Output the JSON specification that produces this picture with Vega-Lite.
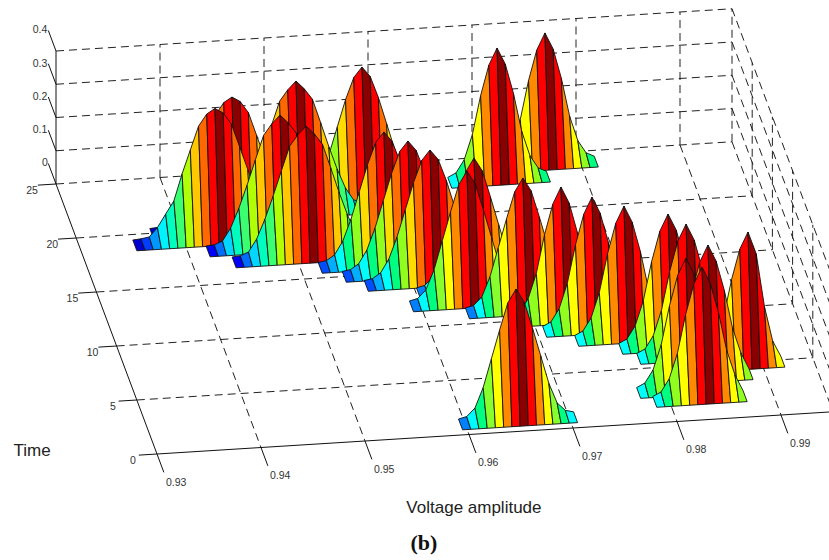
{"$schema":"https://vega.github.io/schema/vega-lite/v6.json","width":829,"height":560,"autosize":{"type":"fit","contains":"padding"},"padding":0,"background":"white","config":{"view":{"stroke":null}},
"datasets":{
"grid":[
{"id":"b0","v":0.93,"t":25,"z":0},{"id":"b0","v":0.995,"t":25,"z":0},
{"id":"b1","v":0.93,"t":25,"z":0.1},{"id":"b1","v":0.995,"t":25,"z":0.1},
{"id":"b2","v":0.93,"t":25,"z":0.2},{"id":"b2","v":0.995,"t":25,"z":0.2},
{"id":"b3","v":0.93,"t":25,"z":0.3},{"id":"b3","v":0.995,"t":25,"z":0.3},
{"id":"b4","v":0.93,"t":25,"z":0.4},{"id":"b4","v":0.995,"t":25,"z":0.4},
{"id":"c1","v":0.94,"t":25,"z":0},{"id":"c1","v":0.94,"t":25,"z":0.4},
{"id":"c2","v":0.95,"t":25,"z":0},{"id":"c2","v":0.95,"t":25,"z":0.4},
{"id":"c3","v":0.96,"t":25,"z":0},{"id":"c3","v":0.96,"t":25,"z":0.4},
{"id":"c4","v":0.97,"t":25,"z":0},{"id":"c4","v":0.97,"t":25,"z":0.4},
{"id":"c5","v":0.98,"t":25,"z":0},{"id":"c5","v":0.98,"t":25,"z":0.4},
{"id":"c6","v":0.99,"t":25,"z":0},{"id":"c6","v":0.99,"t":25,"z":0.4},
{"id":"c7","v":0.995,"t":25,"z":0},{"id":"c7","v":0.995,"t":25,"z":0.4},
{"id":"f1","v":0.94,"t":0,"z":0},{"id":"f1","v":0.94,"t":25,"z":0},
{"id":"f2","v":0.95,"t":0,"z":0},{"id":"f2","v":0.95,"t":25,"z":0},
{"id":"f3","v":0.96,"t":0,"z":0},{"id":"f3","v":0.96,"t":25,"z":0},
{"id":"f4","v":0.97,"t":0,"z":0},{"id":"f4","v":0.97,"t":25,"z":0},
{"id":"f5","v":0.98,"t":0,"z":0},{"id":"f5","v":0.98,"t":25,"z":0},
{"id":"f6","v":0.99,"t":0,"z":0},{"id":"f6","v":0.99,"t":25,"z":0},
{"id":"f7","v":0.995,"t":0,"z":0},{"id":"f7","v":0.995,"t":25,"z":0},
{"id":"g1","v":0.93,"t":5,"z":0},{"id":"g1","v":0.995,"t":5,"z":0},
{"id":"g2","v":0.93,"t":10,"z":0},{"id":"g2","v":0.995,"t":10,"z":0},
{"id":"g3","v":0.93,"t":15,"z":0},{"id":"g3","v":0.995,"t":15,"z":0},
{"id":"g4","v":0.93,"t":20,"z":0},{"id":"g4","v":0.995,"t":20,"z":0},
{"id":"r1","v":0.995,"t":0,"z":0.1},{"id":"r1","v":0.995,"t":25,"z":0.1},
{"id":"r2","v":0.995,"t":0,"z":0.2},{"id":"r2","v":0.995,"t":25,"z":0.2},
{"id":"r3","v":0.995,"t":0,"z":0.3},{"id":"r3","v":0.995,"t":25,"z":0.3},
{"id":"r4","v":0.995,"t":0,"z":0.4},{"id":"r4","v":0.995,"t":25,"z":0.4},
{"id":"s1","v":0.995,"t":5,"z":0},{"id":"s1","v":0.995,"t":5,"z":0.4},
{"id":"s2","v":0.995,"t":10,"z":0},{"id":"s2","v":0.995,"t":10,"z":0.4},
{"id":"s3","v":0.995,"t":15,"z":0},{"id":"s3","v":0.995,"t":15,"z":0.4},
{"id":"s4","v":0.995,"t":20,"z":0},{"id":"s4","v":0.995,"t":20,"z":0.4}
],
"axes":[
{"id":"ax","v":0.93,"t":25,"z":0},{"id":"ax","v":0.93,"t":25,"z":0.4},
{"id":"ay","v":0.93,"t":0,"z":0},{"id":"ay","v":0.93,"t":25,"z":0},
{"id":"az","v":0.93,"t":0,"z":0},{"id":"az","v":0.995,"t":0,"z":0},
{"id":"v0","v":0.93,"t":0,"z":0},{"id":"v0","v":0.93,"t":-1.7,"z":0},
{"id":"v1","v":0.94,"t":0,"z":0},{"id":"v1","v":0.94,"t":-1.7,"z":0},
{"id":"v2","v":0.95,"t":0,"z":0},{"id":"v2","v":0.95,"t":-1.7,"z":0},
{"id":"v3","v":0.96,"t":0,"z":0},{"id":"v3","v":0.96,"t":-1.7,"z":0},
{"id":"v4","v":0.97,"t":0,"z":0},{"id":"v4","v":0.97,"t":-1.7,"z":0},
{"id":"v5","v":0.98,"t":0,"z":0},{"id":"v5","v":0.98,"t":-1.7,"z":0},
{"id":"v6","v":0.99,"t":0,"z":0},{"id":"v6","v":0.99,"t":-1.7,"z":0},
{"id":"t0","v":0.93,"t":0,"z":0},{"id":"t0","v":0.92825,"t":0,"z":0},
{"id":"t1","v":0.93,"t":5,"z":0},{"id":"t1","v":0.92825,"t":5,"z":0},
{"id":"t2","v":0.93,"t":10,"z":0},{"id":"t2","v":0.92825,"t":10,"z":0},
{"id":"t3","v":0.93,"t":15,"z":0},{"id":"t3","v":0.92825,"t":15,"z":0},
{"id":"t4","v":0.93,"t":20,"z":0},{"id":"t4","v":0.92825,"t":20,"z":0},
{"id":"t5","v":0.93,"t":25,"z":0},{"id":"t5","v":0.92825,"t":25,"z":0},
{"id":"z0","v":0.93,"t":25,"z":0},{"id":"z0","v":0.93,"t":26.9,"z":0},
{"id":"z1","v":0.93,"t":25,"z":0.1},{"id":"z1","v":0.93,"t":26.9,"z":0.1},
{"id":"z2","v":0.93,"t":25,"z":0.2},{"id":"z2","v":0.93,"t":26.9,"z":0.2},
{"id":"z3","v":0.93,"t":25,"z":0.3},{"id":"z3","v":0.93,"t":26.9,"z":0.3},
{"id":"z4","v":0.93,"t":25,"z":0.4},{"id":"z4","v":0.93,"t":26.9,"z":0.4}
],
"ticks":[
{"label":"0.93","v":0.9308,"t":-2.7,"z":0},{"label":"0.94","v":0.9408,"t":-2.7,"z":0},{"label":"0.95","v":0.9508,"t":-2.7,"z":0},{"label":"0.96","v":0.9608,"t":-2.7,"z":0},{"label":"0.97","v":0.9708,"t":-2.7,"z":0},{"label":"0.98","v":0.9808,"t":-2.7,"z":0},{"label":"0.99","v":0.9908,"t":-2.7,"z":0},
{"label":"0","v":0.9275,"t":-0.5,"z":0},{"label":"5","v":0.9275,"t":4.5,"z":0},{"label":"10","v":0.9275,"t":9.5,"z":0},{"label":"15","v":0.9275,"t":14.5,"z":0},{"label":"20","v":0.9275,"t":19.5,"z":0},{"label":"25","v":0.9275,"t":24.5,"z":0},
{"label":"0","v":0.9297,"t":26.95,"z":0},{"label":"0.1","v":0.92922,"t":26.95,"z":0.1},{"label":"0.2","v":0.92922,"t":26.95,"z":0.2},{"label":"0.3","v":0.92922,"t":26.95,"z":0.3},{"label":"0.4","v":0.92922,"t":26.95,"z":0.4}
],
"titles":[{"label":"Time","v":0.91837,"t":0.98,"z":0},{"label":"Voltage amplitude","v":0.95788,"t":-6.68,"z":0}],
"caption":[{"label":"(b)","v":0.95195,"t":-9.57,"z":0}],
"ridges":[
{"b":1,"t":23.47,"v":0.97207,"z":0,"c":0.38},{"b":1,"t":23.47,"v":0.97286,"z":0.012,"c":0.45},{"b":1,"t":23.47,"v":0.97365,"z":0.05,"c":0.55},{"b":1,"t":23.47,"v":0.97444,"z":0.125,"c":0.625},{"b":1,"t":23.47,"v":0.97523,"z":0.24,"c":0.74},{"b":1,"t":23.47,"v":0.97602,"z":0.33,"c":0.875},{"b":1,"t":23.47,"v":0.97681,"z":0.38,"c":1},{"b":1,"t":23.47,"v":0.9776,"z":0.33,"c":0.875},{"b":1,"t":23.47,"v":0.97839,"z":0.24,"c":0.74},{"b":1,"t":23.47,"v":0.97918,"z":0.125,"c":0.625},{"b":1,"t":23.47,"v":0.97997,"z":0.05,"c":0.55},{"b":1,"t":23.47,"v":0.98076,"z":0.012,"c":0.45},{"b":1,"t":23.47,"v":0.98155,"z":0,"c":0.38},
{"b":2,"t":22.38,"v":0.96704,"z":0,"c":0.38},{"b":2,"t":22.38,"v":0.96783,"z":0.012,"c":0.45},{"b":2,"t":22.38,"v":0.96862,"z":0.05,"c":0.55},{"b":2,"t":22.38,"v":0.96941,"z":0.125,"c":0.625},{"b":2,"t":22.38,"v":0.9702,"z":0.24,"c":0.74},{"b":2,"t":22.38,"v":0.97099,"z":0.33,"c":0.875},{"b":2,"t":22.38,"v":0.97178,"z":0.38,"c":1},{"b":2,"t":22.38,"v":0.97257,"z":0.33,"c":0.875},{"b":2,"t":22.38,"v":0.97336,"z":0.24,"c":0.74},{"b":2,"t":22.38,"v":0.97415,"z":0.125,"c":0.625},{"b":2,"t":22.38,"v":0.97494,"z":0.05,"c":0.55},{"b":2,"t":22.38,"v":0.97573,"z":0.012,"c":0.45},{"b":2,"t":22.38,"v":0.97652,"z":0,"c":0.38},
{"b":3,"t":21.42,"v":0.9521,"z":0,"c":0.18},{"b":3,"t":21.42,"v":0.95289,"z":0.004,"c":0.29},{"b":3,"t":21.42,"v":0.95368,"z":0.02,"c":0.38},{"b":3,"t":21.42,"v":0.95447,"z":0.06,"c":0.45},{"b":3,"t":21.42,"v":0.95526,"z":0.125,"c":0.55},{"b":3,"t":21.42,"v":0.95605,"z":0.205,"c":0.66},{"b":3,"t":21.42,"v":0.95684,"z":0.285,"c":0.78},{"b":3,"t":21.42,"v":0.95763,"z":0.35,"c":0.88},{"b":3,"t":21.42,"v":0.95842,"z":0.38,"c":1},{"b":3,"t":21.42,"v":0.95921,"z":0.35,"c":0.88},{"b":3,"t":21.42,"v":0.96,"z":0.285,"c":0.78},{"b":3,"t":21.42,"v":0.96079,"z":0.205,"c":0.66},{"b":3,"t":21.42,"v":0.96158,"z":0.125,"c":0.55},{"b":3,"t":21.42,"v":0.96237,"z":0.06,"c":0.45},{"b":3,"t":21.42,"v":0.96316,"z":0.02,"c":0.38},{"b":3,"t":21.42,"v":0.96395,"z":0.004,"c":0.29},{"b":3,"t":21.42,"v":0.96474,"z":0,"c":0.18},
{"b":4,"t":20.53,"v":0.94462,"z":0,"c":0.12},{"b":4,"t":20.53,"v":0.94541,"z":0.002,"c":0.22},{"b":4,"t":20.53,"v":0.9462,"z":0.012,"c":0.33},{"b":4,"t":20.53,"v":0.94699,"z":0.05,"c":0.42},{"b":4,"t":20.53,"v":0.94778,"z":0.108,"c":0.47},{"b":4,"t":20.53,"v":0.94857,"z":0.176,"c":0.57},{"b":4,"t":20.53,"v":0.94936,"z":0.25,"c":0.68},{"b":4,"t":20.53,"v":0.95015,"z":0.322,"c":0.79},{"b":4,"t":20.53,"v":0.95094,"z":0.355,"c":0.88},{"b":4,"t":20.53,"v":0.95173,"z":0.38,"c":1},{"b":4,"t":20.53,"v":0.95252,"z":0.355,"c":0.88},{"b":4,"t":20.53,"v":0.95331,"z":0.322,"c":0.79},{"b":4,"t":20.53,"v":0.9541,"z":0.25,"c":0.68},{"b":4,"t":20.53,"v":0.95489,"z":0.176,"c":0.57},{"b":4,"t":20.53,"v":0.95568,"z":0.108,"c":0.47},{"b":4,"t":20.53,"v":0.95647,"z":0.05,"c":0.42},{"b":4,"t":20.53,"v":0.95726,"z":0.012,"c":0.33},{"b":4,"t":20.53,"v":0.95805,"z":0.002,"c":0.22},{"b":4,"t":20.53,"v":0.95884,"z":0,"c":0.12},
{"b":5,"t":19.44,"v":0.93725,"z":0,"c":0.08},{"b":5,"t":19.44,"v":0.93804,"z":0.002,"c":0.16},{"b":5,"t":19.44,"v":0.93883,"z":0.006,"c":0.27},{"b":5,"t":19.44,"v":0.93962,"z":0.033,"c":0.36},{"b":5,"t":19.44,"v":0.94041,"z":0.072,"c":0.42},{"b":5,"t":19.44,"v":0.9412,"z":0.11,"c":0.47},{"b":5,"t":19.44,"v":0.94199,"z":0.19,"c":0.57},{"b":5,"t":19.44,"v":0.94278,"z":0.26,"c":0.68},{"b":5,"t":19.44,"v":0.94357,"z":0.33,"c":0.79},{"b":5,"t":19.44,"v":0.94436,"z":0.365,"c":0.88},{"b":5,"t":19.44,"v":0.94515,"z":0.38,"c":1},{"b":5,"t":19.44,"v":0.94594,"z":0.365,"c":0.88},{"b":5,"t":19.44,"v":0.94673,"z":0.33,"c":0.79},{"b":5,"t":19.44,"v":0.94752,"z":0.26,"c":0.68},{"b":5,"t":19.44,"v":0.94831,"z":0.19,"c":0.57},{"b":5,"t":19.44,"v":0.9491,"z":0.11,"c":0.47},{"b":5,"t":19.44,"v":0.94989,"z":0.072,"c":0.42},{"b":5,"t":19.44,"v":0.95068,"z":0.033,"c":0.36},{"b":5,"t":19.44,"v":0.95147,"z":0.006,"c":0.27},{"b":5,"t":19.44,"v":0.95226,"z":0.002,"c":0.16},{"b":5,"t":19.44,"v":0.95305,"z":0,"c":0.08},
{"b":6,"t":18.5,"v":0.93525,"z":0,"c":0.08},{"b":6,"t":18.5,"v":0.93604,"z":0.002,"c":0.16},{"b":6,"t":18.5,"v":0.93683,"z":0.006,"c":0.27},{"b":6,"t":18.5,"v":0.93762,"z":0.033,"c":0.36},{"b":6,"t":18.5,"v":0.93841,"z":0.072,"c":0.42},{"b":6,"t":18.5,"v":0.9392,"z":0.11,"c":0.47},{"b":6,"t":18.5,"v":0.93999,"z":0.19,"c":0.57},{"b":6,"t":18.5,"v":0.94078,"z":0.26,"c":0.68},{"b":6,"t":18.5,"v":0.94157,"z":0.33,"c":0.79},{"b":6,"t":18.5,"v":0.94236,"z":0.365,"c":0.88},{"b":6,"t":18.5,"v":0.94315,"z":0.38,"c":1},{"b":6,"t":18.5,"v":0.94394,"z":0.365,"c":0.88},{"b":6,"t":18.5,"v":0.94473,"z":0.33,"c":0.79},{"b":6,"t":18.5,"v":0.94552,"z":0.26,"c":0.68},{"b":6,"t":18.5,"v":0.94631,"z":0.19,"c":0.57},{"b":6,"t":18.5,"v":0.9471,"z":0.11,"c":0.47},{"b":6,"t":18.5,"v":0.94789,"z":0.072,"c":0.42},{"b":6,"t":18.5,"v":0.94868,"z":0.033,"c":0.36},{"b":6,"t":18.5,"v":0.94947,"z":0.006,"c":0.27},{"b":6,"t":18.5,"v":0.95026,"z":0.002,"c":0.16},{"b":6,"t":18.5,"v":0.95105,"z":0,"c":0.08},
{"b":7,"t":17.54,"v":0.94192,"z":0,"c":0.12},{"b":7,"t":17.54,"v":0.94271,"z":0.002,"c":0.22},{"b":7,"t":17.54,"v":0.9435,"z":0.012,"c":0.33},{"b":7,"t":17.54,"v":0.94429,"z":0.05,"c":0.42},{"b":7,"t":17.54,"v":0.94508,"z":0.108,"c":0.47},{"b":7,"t":17.54,"v":0.94587,"z":0.176,"c":0.57},{"b":7,"t":17.54,"v":0.94666,"z":0.25,"c":0.68},{"b":7,"t":17.54,"v":0.94745,"z":0.322,"c":0.79},{"b":7,"t":17.54,"v":0.94824,"z":0.355,"c":0.88},{"b":7,"t":17.54,"v":0.94903,"z":0.38,"c":1},{"b":7,"t":17.54,"v":0.94982,"z":0.355,"c":0.88},{"b":7,"t":17.54,"v":0.95061,"z":0.322,"c":0.79},{"b":7,"t":17.54,"v":0.9514,"z":0.25,"c":0.68},{"b":7,"t":17.54,"v":0.95219,"z":0.176,"c":0.57},{"b":7,"t":17.54,"v":0.95298,"z":0.108,"c":0.47},{"b":7,"t":17.54,"v":0.95377,"z":0.05,"c":0.42},{"b":7,"t":17.54,"v":0.95456,"z":0.012,"c":0.33},{"b":7,"t":17.54,"v":0.95535,"z":0.002,"c":0.22},{"b":7,"t":17.54,"v":0.95614,"z":0,"c":0.12},
{"b":8,"t":16.4,"v":0.94398,"z":0,"c":0.12},{"b":8,"t":16.4,"v":0.94477,"z":0.002,"c":0.22},{"b":8,"t":16.4,"v":0.94556,"z":0.012,"c":0.33},{"b":8,"t":16.4,"v":0.94635,"z":0.05,"c":0.42},{"b":8,"t":16.4,"v":0.94714,"z":0.108,"c":0.47},{"b":8,"t":16.4,"v":0.94793,"z":0.176,"c":0.57},{"b":8,"t":16.4,"v":0.94872,"z":0.25,"c":0.68},{"b":8,"t":16.4,"v":0.94951,"z":0.322,"c":0.79},{"b":8,"t":16.4,"v":0.9503,"z":0.355,"c":0.88},{"b":8,"t":16.4,"v":0.95109,"z":0.38,"c":1},{"b":8,"t":16.4,"v":0.95188,"z":0.355,"c":0.88},{"b":8,"t":16.4,"v":0.95267,"z":0.322,"c":0.79},{"b":8,"t":16.4,"v":0.95346,"z":0.25,"c":0.68},{"b":8,"t":16.4,"v":0.95425,"z":0.176,"c":0.57},{"b":8,"t":16.4,"v":0.95504,"z":0.108,"c":0.47},{"b":8,"t":16.4,"v":0.95583,"z":0.05,"c":0.42},{"b":8,"t":16.4,"v":0.95662,"z":0.012,"c":0.33},{"b":8,"t":16.4,"v":0.95741,"z":0.002,"c":0.22},{"b":8,"t":16.4,"v":0.9582,"z":0,"c":0.12},
{"b":9,"t":15.42,"v":0.95188,"z":0,"c":0.18},{"b":9,"t":15.42,"v":0.95267,"z":0.004,"c":0.29},{"b":9,"t":15.42,"v":0.95346,"z":0.02,"c":0.38},{"b":9,"t":15.42,"v":0.95425,"z":0.06,"c":0.45},{"b":9,"t":15.42,"v":0.95504,"z":0.125,"c":0.55},{"b":9,"t":15.42,"v":0.95583,"z":0.205,"c":0.66},{"b":9,"t":15.42,"v":0.95662,"z":0.285,"c":0.78},{"b":9,"t":15.42,"v":0.95741,"z":0.35,"c":0.88},{"b":9,"t":15.42,"v":0.9582,"z":0.38,"c":1},{"b":9,"t":15.42,"v":0.95899,"z":0.35,"c":0.88},{"b":9,"t":15.42,"v":0.95978,"z":0.285,"c":0.78},{"b":9,"t":15.42,"v":0.96057,"z":0.205,"c":0.66},{"b":9,"t":15.42,"v":0.96136,"z":0.125,"c":0.55},{"b":9,"t":15.42,"v":0.96215,"z":0.06,"c":0.45},{"b":9,"t":15.42,"v":0.96294,"z":0.02,"c":0.38},{"b":9,"t":15.42,"v":0.96373,"z":0.004,"c":0.29},{"b":9,"t":15.42,"v":0.96452,"z":0,"c":0.18},
{"b":10,"t":14.47,"v":0.95382,"z":0,"c":0.18},{"b":10,"t":14.47,"v":0.95461,"z":0.004,"c":0.29},{"b":10,"t":14.47,"v":0.9554,"z":0.02,"c":0.38},{"b":10,"t":14.47,"v":0.95619,"z":0.06,"c":0.45},{"b":10,"t":14.47,"v":0.95698,"z":0.125,"c":0.55},{"b":10,"t":14.47,"v":0.95777,"z":0.205,"c":0.66},{"b":10,"t":14.47,"v":0.95856,"z":0.285,"c":0.78},{"b":10,"t":14.47,"v":0.95935,"z":0.35,"c":0.88},{"b":10,"t":14.47,"v":0.96014,"z":0.38,"c":1},{"b":10,"t":14.47,"v":0.96093,"z":0.35,"c":0.88},{"b":10,"t":14.47,"v":0.96172,"z":0.285,"c":0.78},{"b":10,"t":14.47,"v":0.96251,"z":0.205,"c":0.66},{"b":10,"t":14.47,"v":0.9633,"z":0.125,"c":0.55},{"b":10,"t":14.47,"v":0.96409,"z":0.06,"c":0.45},{"b":10,"t":14.47,"v":0.96488,"z":0.02,"c":0.38},{"b":10,"t":14.47,"v":0.96567,"z":0.004,"c":0.29},{"b":10,"t":14.47,"v":0.96646,"z":0,"c":0.18},
{"b":11,"t":13.53,"v":0.95557,"z":0,"c":0.18},{"b":11,"t":13.53,"v":0.95636,"z":0.004,"c":0.29},{"b":11,"t":13.53,"v":0.95715,"z":0.02,"c":0.38},{"b":11,"t":13.53,"v":0.95794,"z":0.06,"c":0.45},{"b":11,"t":13.53,"v":0.95873,"z":0.125,"c":0.55},{"b":11,"t":13.53,"v":0.95952,"z":0.205,"c":0.66},{"b":11,"t":13.53,"v":0.96031,"z":0.285,"c":0.78},{"b":11,"t":13.53,"v":0.9611,"z":0.35,"c":0.88},{"b":11,"t":13.53,"v":0.96189,"z":0.38,"c":1},{"b":11,"t":13.53,"v":0.96268,"z":0.35,"c":0.88},{"b":11,"t":13.53,"v":0.96347,"z":0.285,"c":0.78},{"b":11,"t":13.53,"v":0.96426,"z":0.205,"c":0.66},{"b":11,"t":13.53,"v":0.96505,"z":0.125,"c":0.55},{"b":11,"t":13.53,"v":0.96584,"z":0.06,"c":0.45},{"b":11,"t":13.53,"v":0.96663,"z":0.02,"c":0.38},{"b":11,"t":13.53,"v":0.96742,"z":0.004,"c":0.29},{"b":11,"t":13.53,"v":0.96821,"z":0,"c":0.18},
{"b":12,"t":12.56,"v":0.96022,"z":0,"c":0.25},{"b":12,"t":12.56,"v":0.96101,"z":0.006,"c":0.37},{"b":12,"t":12.56,"v":0.9618,"z":0.03,"c":0.45},{"b":12,"t":12.56,"v":0.96259,"z":0.09,"c":0.54},{"b":12,"t":12.56,"v":0.96338,"z":0.175,"c":0.625},{"b":12,"t":12.56,"v":0.96417,"z":0.26,"c":0.74},{"b":12,"t":12.56,"v":0.96496,"z":0.34,"c":0.875},{"b":12,"t":12.56,"v":0.96575,"z":0.38,"c":1},{"b":12,"t":12.56,"v":0.96654,"z":0.34,"c":0.875},{"b":12,"t":12.56,"v":0.96733,"z":0.26,"c":0.74},{"b":12,"t":12.56,"v":0.96812,"z":0.175,"c":0.625},{"b":12,"t":12.56,"v":0.96891,"z":0.09,"c":0.54},{"b":12,"t":12.56,"v":0.9697,"z":0.03,"c":0.45},{"b":12,"t":12.56,"v":0.97049,"z":0.006,"c":0.37},{"b":12,"t":12.56,"v":0.97128,"z":0,"c":0.25},
{"b":13,"t":11.42,"v":0.9591,"z":0,"c":0.25},{"b":13,"t":11.42,"v":0.95989,"z":0.006,"c":0.37},{"b":13,"t":11.42,"v":0.96068,"z":0.03,"c":0.45},{"b":13,"t":11.42,"v":0.96147,"z":0.09,"c":0.54},{"b":13,"t":11.42,"v":0.96226,"z":0.175,"c":0.625},{"b":13,"t":11.42,"v":0.96305,"z":0.26,"c":0.74},{"b":13,"t":11.42,"v":0.96384,"z":0.34,"c":0.875},{"b":13,"t":11.42,"v":0.96463,"z":0.38,"c":1},{"b":13,"t":11.42,"v":0.96542,"z":0.34,"c":0.875},{"b":13,"t":11.42,"v":0.96621,"z":0.26,"c":0.74},{"b":13,"t":11.42,"v":0.967,"z":0.175,"c":0.625},{"b":13,"t":11.42,"v":0.96779,"z":0.09,"c":0.54},{"b":13,"t":11.42,"v":0.96858,"z":0.03,"c":0.45},{"b":13,"t":11.42,"v":0.96937,"z":0.006,"c":0.37},{"b":13,"t":11.42,"v":0.97016,"z":0,"c":0.25},
{"b":14,"t":10.47,"v":0.96411,"z":0,"c":0.25},{"b":14,"t":10.47,"v":0.9649,"z":0.006,"c":0.37},{"b":14,"t":10.47,"v":0.96569,"z":0.03,"c":0.45},{"b":14,"t":10.47,"v":0.96648,"z":0.09,"c":0.54},{"b":14,"t":10.47,"v":0.96727,"z":0.175,"c":0.625},{"b":14,"t":10.47,"v":0.96806,"z":0.26,"c":0.74},{"b":14,"t":10.47,"v":0.96885,"z":0.34,"c":0.875},{"b":14,"t":10.47,"v":0.96964,"z":0.38,"c":1},{"b":14,"t":10.47,"v":0.97043,"z":0.34,"c":0.875},{"b":14,"t":10.47,"v":0.97122,"z":0.26,"c":0.74},{"b":14,"t":10.47,"v":0.97201,"z":0.175,"c":0.625},{"b":14,"t":10.47,"v":0.9728,"z":0.09,"c":0.54},{"b":14,"t":10.47,"v":0.97359,"z":0.03,"c":0.45},{"b":14,"t":10.47,"v":0.97438,"z":0.006,"c":0.37},{"b":14,"t":10.47,"v":0.97517,"z":0,"c":0.25},
{"b":15,"t":9.44,"v":0.96816,"z":0,"c":0.38},{"b":15,"t":9.44,"v":0.96895,"z":0.012,"c":0.45},{"b":15,"t":9.44,"v":0.96974,"z":0.05,"c":0.55},{"b":15,"t":9.44,"v":0.97053,"z":0.125,"c":0.625},{"b":15,"t":9.44,"v":0.97132,"z":0.24,"c":0.74},{"b":15,"t":9.44,"v":0.97211,"z":0.33,"c":0.875},{"b":15,"t":9.44,"v":0.9729,"z":0.38,"c":1},{"b":15,"t":9.44,"v":0.97369,"z":0.33,"c":0.875},{"b":15,"t":9.44,"v":0.97448,"z":0.24,"c":0.74},{"b":15,"t":9.44,"v":0.97527,"z":0.125,"c":0.625},{"b":15,"t":9.44,"v":0.97606,"z":0.05,"c":0.55},{"b":15,"t":9.44,"v":0.97685,"z":0.012,"c":0.45},{"b":15,"t":9.44,"v":0.97764,"z":0,"c":0.38},
{"b":16,"t":8.36,"v":0.97072,"z":0,"c":0.38},{"b":16,"t":8.36,"v":0.97151,"z":0.012,"c":0.45},{"b":16,"t":8.36,"v":0.9723,"z":0.05,"c":0.55},{"b":16,"t":8.36,"v":0.97309,"z":0.125,"c":0.625},{"b":16,"t":8.36,"v":0.97388,"z":0.24,"c":0.74},{"b":16,"t":8.36,"v":0.97467,"z":0.33,"c":0.875},{"b":16,"t":8.36,"v":0.97546,"z":0.38,"c":1},{"b":16,"t":8.36,"v":0.97625,"z":0.33,"c":0.875},{"b":16,"t":8.36,"v":0.97704,"z":0.24,"c":0.74},{"b":16,"t":8.36,"v":0.97783,"z":0.125,"c":0.625},{"b":16,"t":8.36,"v":0.97862,"z":0.05,"c":0.55},{"b":16,"t":8.36,"v":0.97941,"z":0.012,"c":0.45},{"b":16,"t":8.36,"v":0.9802,"z":0,"c":0.38},
{"b":17,"t":7.36,"v":0.97341,"z":0,"c":0.38},{"b":17,"t":7.36,"v":0.9742,"z":0.012,"c":0.45},{"b":17,"t":7.36,"v":0.97499,"z":0.05,"c":0.55},{"b":17,"t":7.36,"v":0.97578,"z":0.125,"c":0.625},{"b":17,"t":7.36,"v":0.97657,"z":0.24,"c":0.74},{"b":17,"t":7.36,"v":0.97736,"z":0.33,"c":0.875},{"b":17,"t":7.36,"v":0.97815,"z":0.38,"c":1},{"b":17,"t":7.36,"v":0.97894,"z":0.33,"c":0.875},{"b":17,"t":7.36,"v":0.97973,"z":0.24,"c":0.74},{"b":17,"t":7.36,"v":0.98052,"z":0.125,"c":0.625},{"b":17,"t":7.36,"v":0.98131,"z":0.05,"c":0.55},{"b":17,"t":7.36,"v":0.9821,"z":0.012,"c":0.45},{"b":17,"t":7.36,"v":0.98289,"z":0,"c":0.38},
{"b":18,"t":6.39,"v":0.97727,"z":0,"c":0.38},{"b":18,"t":6.39,"v":0.97806,"z":0.012,"c":0.45},{"b":18,"t":6.39,"v":0.97885,"z":0.05,"c":0.55},{"b":18,"t":6.39,"v":0.97964,"z":0.125,"c":0.625},{"b":18,"t":6.39,"v":0.98043,"z":0.24,"c":0.74},{"b":18,"t":6.39,"v":0.98122,"z":0.33,"c":0.875},{"b":18,"t":6.39,"v":0.98201,"z":0.38,"c":1},{"b":18,"t":6.39,"v":0.9828,"z":0.33,"c":0.875},{"b":18,"t":6.39,"v":0.98359,"z":0.24,"c":0.74},{"b":18,"t":6.39,"v":0.98438,"z":0.125,"c":0.625},{"b":18,"t":6.39,"v":0.98517,"z":0.05,"c":0.55},{"b":18,"t":6.39,"v":0.98596,"z":0.012,"c":0.45},{"b":18,"t":6.39,"v":0.98675,"z":0,"c":0.38},
{"b":19,"t":5.38,"v":0.97861,"z":0,"c":0.38},{"b":19,"t":5.38,"v":0.9794,"z":0.012,"c":0.45},{"b":19,"t":5.38,"v":0.98019,"z":0.05,"c":0.55},{"b":19,"t":5.38,"v":0.98098,"z":0.125,"c":0.625},{"b":19,"t":5.38,"v":0.98177,"z":0.24,"c":0.74},{"b":19,"t":5.38,"v":0.98256,"z":0.33,"c":0.875},{"b":19,"t":5.38,"v":0.98335,"z":0.38,"c":1},{"b":19,"t":5.38,"v":0.98414,"z":0.33,"c":0.875},{"b":19,"t":5.38,"v":0.98493,"z":0.24,"c":0.74},{"b":19,"t":5.38,"v":0.98572,"z":0.125,"c":0.625},{"b":19,"t":5.38,"v":0.98651,"z":0.05,"c":0.55},{"b":19,"t":5.38,"v":0.9873,"z":0.012,"c":0.45},{"b":19,"t":5.38,"v":0.98809,"z":0,"c":0.38},
{"b":20,"t":4.31,"v":0.98415,"z":0,"c":0.38},{"b":20,"t":4.31,"v":0.98494,"z":0.012,"c":0.45},{"b":20,"t":4.31,"v":0.98573,"z":0.05,"c":0.55},{"b":20,"t":4.31,"v":0.98652,"z":0.125,"c":0.625},{"b":20,"t":4.31,"v":0.98731,"z":0.24,"c":0.74},{"b":20,"t":4.31,"v":0.9881,"z":0.33,"c":0.875},{"b":20,"t":4.31,"v":0.98889,"z":0.38,"c":1},{"b":20,"t":4.31,"v":0.98968,"z":0.313,"c":0.875},{"b":20,"t":4.31,"v":0.99047,"z":0.153,"c":0.74},{"b":20,"t":4.31,"v":0.99126,"z":0.048,"c":0.625},{"b":20,"t":4.31,"v":0.99205,"z":0,"c":0.55},
{"b":21,"t":3.36,"v":0.97993,"z":0,"c":0.38},{"b":21,"t":3.36,"v":0.98072,"z":0.012,"c":0.45},{"b":21,"t":3.36,"v":0.98151,"z":0.05,"c":0.55},{"b":21,"t":3.36,"v":0.9823,"z":0.125,"c":0.625},{"b":21,"t":3.36,"v":0.98309,"z":0.24,"c":0.74},{"b":21,"t":3.36,"v":0.98388,"z":0.33,"c":0.875},{"b":21,"t":3.36,"v":0.98467,"z":0.38,"c":1},{"b":21,"t":3.36,"v":0.98546,"z":0.33,"c":0.875},{"b":21,"t":3.36,"v":0.98625,"z":0.24,"c":0.74},{"b":21,"t":3.36,"v":0.98704,"z":0.125,"c":0.625},{"b":21,"t":3.36,"v":0.98783,"z":0.05,"c":0.55},{"b":21,"t":3.36,"v":0.98862,"z":0,"c":0.45},
{"b":22,"t":2.3,"v":0.9774,"z":0,"c":0.38},{"b":22,"t":2.3,"v":0.97819,"z":0.012,"c":0.45},{"b":22,"t":2.3,"v":0.97898,"z":0.05,"c":0.55},{"b":22,"t":2.3,"v":0.97977,"z":0.125,"c":0.625},{"b":22,"t":2.3,"v":0.98056,"z":0.24,"c":0.74},{"b":22,"t":2.3,"v":0.98135,"z":0.33,"c":0.875},{"b":22,"t":2.3,"v":0.98214,"z":0.38,"c":1},{"b":22,"t":2.3,"v":0.98293,"z":0.33,"c":0.875},{"b":22,"t":2.3,"v":0.98372,"z":0.24,"c":0.74},{"b":22,"t":2.3,"v":0.98451,"z":0.125,"c":0.625},{"b":22,"t":2.3,"v":0.9853,"z":0.05,"c":0.55},{"b":22,"t":2.3,"v":0.98609,"z":0,"c":0.45},
{"b":23,"t":1.4,"v":0.9786,"z":0,"c":0.38},{"b":23,"t":1.4,"v":0.97939,"z":0.012,"c":0.45},{"b":23,"t":1.4,"v":0.98018,"z":0.05,"c":0.55},{"b":23,"t":1.4,"v":0.98097,"z":0.125,"c":0.625},{"b":23,"t":1.4,"v":0.98176,"z":0.24,"c":0.74},{"b":23,"t":1.4,"v":0.98255,"z":0.33,"c":0.875},{"b":23,"t":1.4,"v":0.98334,"z":0.38,"c":1},{"b":23,"t":1.4,"v":0.98413,"z":0.33,"c":0.875},{"b":23,"t":1.4,"v":0.98492,"z":0.24,"c":0.74},{"b":23,"t":1.4,"v":0.98571,"z":0.125,"c":0.625},{"b":23,"t":1.4,"v":0.9865,"z":0.05,"c":0.55},{"b":23,"t":1.4,"v":0.98729,"z":0,"c":0.45},
{"b":24,"t":0.46,"v":0.95956,"z":0,"c":0.25},{"b":24,"t":0.46,"v":0.96035,"z":0.006,"c":0.37},{"b":24,"t":0.46,"v":0.96114,"z":0.03,"c":0.45},{"b":24,"t":0.46,"v":0.96193,"z":0.09,"c":0.54},{"b":24,"t":0.46,"v":0.96272,"z":0.175,"c":0.625},{"b":24,"t":0.46,"v":0.96351,"z":0.26,"c":0.74},{"b":24,"t":0.46,"v":0.9643,"z":0.34,"c":0.875},{"b":24,"t":0.46,"v":0.96509,"z":0.38,"c":1},{"b":24,"t":0.46,"v":0.96588,"z":0.34,"c":0.875},{"b":24,"t":0.46,"v":0.96667,"z":0.26,"c":0.74},{"b":24,"t":0.46,"v":0.96746,"z":0.175,"c":0.625},{"b":24,"t":0.46,"v":0.96825,"z":0.09,"c":0.54},{"b":24,"t":0.46,"v":0.96904,"z":0.03,"c":0.45},{"b":24,"t":0.46,"v":0.96983,"z":0.006,"c":0.37},{"b":24,"t":0.46,"v":0.97062,"z":0,"c":0.25}
]},
"layer":[
{"data":{"name":"grid"},"transform":[{"calculate":"157+10400*(datum.v-0.93)-4.04*datum.t","as":"X"},{"calculate":"454-650*(datum.v-0.93)-10.8*datum.t-332.5*datum.z","as":"Y"}],
"mark":{"type":"line","clip":true,"stroke":"#222222","strokeWidth":1,"strokeDash":[8,5]},
"encoding":{"x":{"field":"X","type":"quantitative","scale":{"domain":[0,829],"nice":false,"zero":false},"axis":null},"y":{"field":"Y","type":"quantitative","scale":{"domain":[560,0],"nice":false,"zero":false},"axis":null},"detail":{"field":"id"}}},
{"data":{"name":"axes"},"transform":[{"calculate":"157+10400*(datum.v-0.93)-4.04*datum.t","as":"X"},{"calculate":"454-650*(datum.v-0.93)-10.8*datum.t-332.5*datum.z","as":"Y"}],
"mark":{"type":"line","clip":true,"stroke":"#111111","strokeWidth":1},
"encoding":{"x":{"field":"X","type":"quantitative","axis":null},"y":{"field":"Y","type":"quantitative","axis":null},"detail":{"field":"id"}}},
{"data":{"name":"ridges"},"transform":[
{"window":[{"op":"lead","field":"v","as":"v2"},{"op":"lead","field":"z","as":"z2"}],"groupby":["b"],"sort":[{"field":"v","order":"ascending"}]},
{"filter":"isValid(datum.v2)"},
{"calculate":"[0,1,2,3,4]","as":"corner"},{"flatten":["corner"]},
{"calculate":"datum.b+'_'+datum.v","as":"strip"},
{"calculate":"datum.corner==1||datum.corner==2?datum.v2:datum.v","as":"vv"},
{"calculate":"datum.corner==2||datum.corner==3?datum.t+1:datum.t","as":"tt"},
{"calculate":"datum.corner==2?datum.z2:datum.corner==3?datum.z:0","as":"zz"},
{"calculate":"157+10400*(datum.vv-0.93)-4.04*datum.tt","as":"X"},
{"calculate":"454-650*(datum.vv-0.93)-10.8*datum.tt-332.5*datum.zz","as":"Y"}],
"mark":{"type":"line","clip":true,"stroke":"#111111","strokeWidth":0.9,"strokeJoin":"round"},
"encoding":{"x":{"field":"X","type":"quantitative","axis":null},"y":{"field":"Y","type":"quantitative","axis":null},"detail":{"field":"strip"},"order":{"field":"corner","type":"quantitative"},
"fill":{"field":"c","type":"quantitative","legend":null,"scale":{"domain":[0,0.125,0.25,0.375,0.45,0.55,0.625,0.75,0.875,1],"range":["#000080","#0000ff","#0080ff","#00ffff","#00ff80","#90ff20","#ffff00","#ff8000","#ff0000","#8b0000"]}}}},
{"data":{"name":"ticks"},"transform":[{"calculate":"157+10400*(datum.v-0.93)-4.04*datum.t","as":"X"},{"calculate":"454-650*(datum.v-0.93)-10.8*datum.t-332.5*datum.z","as":"Y"}],
"mark":{"type":"text","font":"Liberation Sans","fontSize":10.5,"color":"#333333","align":"center","baseline":"middle"},
"encoding":{"x":{"field":"X","type":"quantitative","axis":null},"y":{"field":"Y","type":"quantitative","axis":null},"text":{"field":"label"}}},
{"data":{"name":"titles"},"transform":[{"calculate":"157+10400*(datum.v-0.93)-4.04*datum.t","as":"X"},{"calculate":"454-650*(datum.v-0.93)-10.8*datum.t-332.5*datum.z","as":"Y"}],
"mark":{"type":"text","font":"Liberation Sans","fontSize":17,"color":"#222222","align":"center","baseline":"middle"},
"encoding":{"x":{"field":"X","type":"quantitative","axis":null},"y":{"field":"Y","type":"quantitative","axis":null},"text":{"field":"label"}}},
{"data":{"name":"caption"},"transform":[{"calculate":"157+10400*(datum.v-0.93)-4.04*datum.t","as":"X"},{"calculate":"454-650*(datum.v-0.93)-10.8*datum.t-332.5*datum.z","as":"Y"}],
"mark":{"type":"text","font":"Liberation Serif","fontSize":22,"fontWeight":"bold","color":"#111111","align":"center","baseline":"middle"},
"encoding":{"x":{"field":"X","type":"quantitative","axis":null},"y":{"field":"Y","type":"quantitative","axis":null},"text":{"field":"label"}}}
]}
